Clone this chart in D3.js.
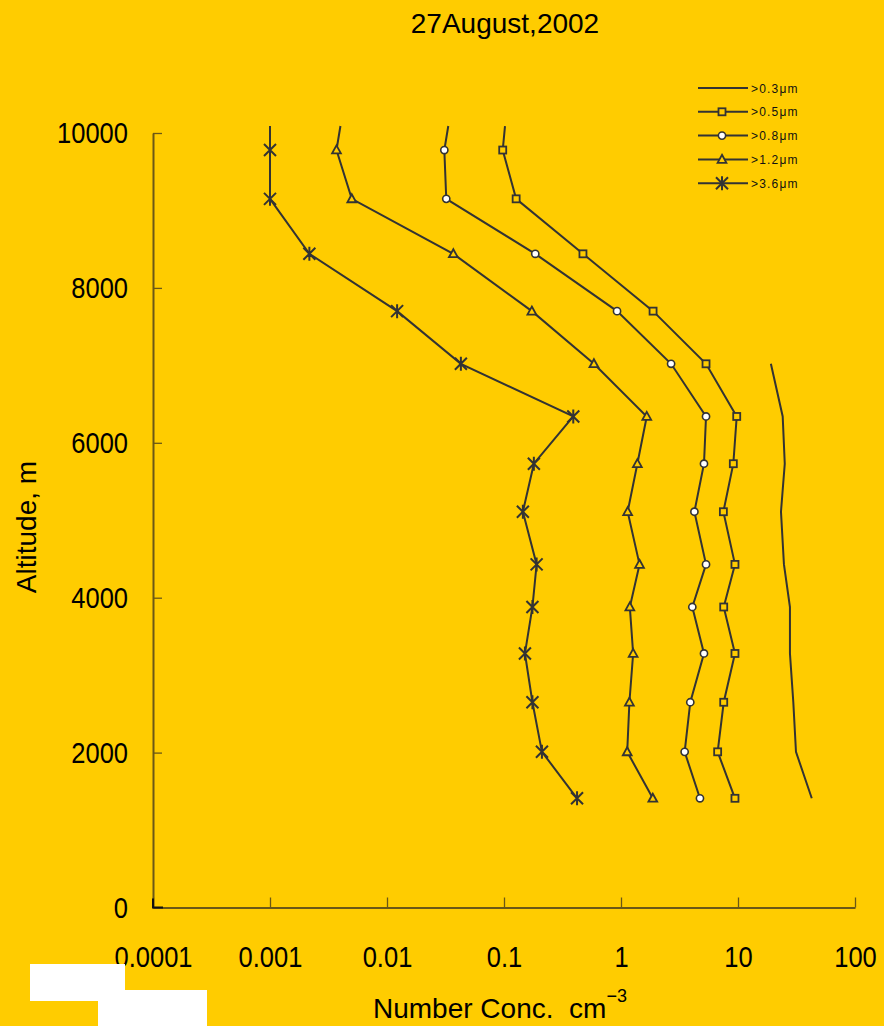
<!DOCTYPE html>
<html>
<head>
<meta charset="utf-8">
<script src="https://cdn.jsdelivr.net/npm/d3@7"></script>
<style>
  html, body { margin: 0; padding: 0; background: #FFCC00; }
  svg { display: block; }
</style>
</head>
<body>
<svg id="chart" width="884" height="1026"></svg>
<script>
// ---------------- data ----------------
const title = "27August,2002";
const altitudes = [10090, 9780, 9150, 8440, 7700, 7020, 6340, 5730, 5110, 4430, 3880, 3280, 2650, 2010, 1410];
const gt03 = [null, null, null, null, null, 19.1, 24.1, 25.1, 23.3, 24.7, 27.8, 27.8, 29.7, 31.3, 42.7];
const gt05 = [0.102, 0.0975, 0.127, 0.473, 1.88, 5.33, 9.75, 9.12, 7.50, 9.42, 7.55, 9.42, 7.55, 6.70, 9.42];
const gt08 = [0.0334, 0.0309, 0.0321, 0.185, 0.925, 2.68, 5.33, 5.12, 4.24, 5.33, 4.07, 5.12, 3.91, 3.50, 4.73];
const gt12 = [0.0040, 0.0037, 0.0050, 0.0369, 0.173, 0.587, 1.66, 1.38, 1.14, 1.44, 1.19, 1.27, 1.18, 1.13, 1.87];
const gt36 = [0.0010, 0.0010, 0.0010, 0.00217, 0.0122, 0.0428, 0.391, 0.180, 0.145, 0.190, 0.175, 0.151, 0.175, 0.211, 0.421];
const seriesNames = [">0.3μm", ">0.5μm", ">0.8μm", ">1.2μm", ">3.6μm"];
const seriesMarkers = ["none", "square", "circle", "triangle", "asterisk"];
const xTickValues = [0.0001, 0.001, 0.01, 0.1, 1, 10, 100];
const xTickLabels = ["0.0001", "0.001", "0.01", "0.1", "1", "10", "100"];
const yTickValues = [0, 2000, 4000, 6000, 8000, 10000];
const yTickLabels = ["0", "2000", "4000", "6000", "8000", "10000"];
const xTitle = "Number Conc.  cm";
const xTitleSup = "−3";
const yTitle = "Altitude, m";

// ---------------- layout ----------------
const svg = d3.select("#chart");
const W = 884, H = 1026;
const plot = { left: 153, right: 855, top: 133, bottom: 907.5 };
const lineColor = "#333333";
const axisColor = "#6b5816";
const tickFont = "'Liberation Sans', Arial, sans-serif";
const mainFont = "'Liberation Sans', Arial, sans-serif";

svg.append("rect").attr("width", W).attr("height", H).attr("fill", "#FFCC00");

const x = d3.scaleLog().domain([0.0001, 100]).range([plot.left, plot.right]);
const y = d3.scaleLinear().domain([0, 10000]).range([plot.bottom, plot.top]);

// ---------------- axes ----------------
const xAxis = d3.axisBottom(x)
  .tickValues(xTickValues)
  .tickFormat((d, i) => xTickLabels[i])
  .tickSizeInner(-10).tickSizeOuter(0).tickPadding(38);
const gx = svg.append("g").attr("transform", `translate(0,${plot.bottom})`).call(xAxis);

const yAxis = d3.axisLeft(y)
  .tickValues(yTickValues)
  .tickFormat((d, i) => yTickLabels[i])
  .tickSizeInner(-9).tickSizeOuter(0).tickPadding(25);
const gy = svg.append("g").attr("transform", `translate(${plot.left},0)`).call(yAxis);

[gx, gy].forEach(g => {
  g.select(".domain").attr("stroke", axisColor).attr("stroke-width", 2);
  g.selectAll(".tick line").attr("stroke", axisColor).attr("stroke-width", 1.3);
  g.selectAll(".tick text").attr("fill", "#000").style("font-family", tickFont).style("font-size", "30px")
    .each(function () {
      // condensed look of the original tick font
      const w = this.getComputedTextLength();
      d3.select(this).attr("textLength", w * 0.85).attr("lengthAdjust", "spacingAndGlyphs");
    });
});

// corner accent
svg.append("path")
  .attr("d", `M${plot.left},${plot.bottom - 9}V${plot.bottom}H${plot.left + 10}`)
  .attr("fill", "none").attr("stroke", "#111").attr("stroke-width", 2);

// ---------------- series ----------------
const allSeries = [gt03, gt05, gt08, gt12, gt36];
const line = d3.line()
  .defined(d => d.v != null)
  .x(d => x(d.v))
  .y(d => y(d.alt));

function markerPath(type) {
  switch (type) {
    case "triangle": return "M0,-4.6L4.4,3.4L-4.4,3.4Z";
    case "asterisk": return "M-6,-6L6,6M-6,6L6,-6M0,-7L0,7";
    default: return null;
  }
}
function drawMarker(g, type, cx, cy) {
  if (type === "square") {
    g.append("rect").attr("x", cx - 3.5).attr("y", cy - 3.5).attr("width", 7).attr("height", 7)
      .attr("fill", "#FFCC00").attr("stroke", lineColor).attr("stroke-width", 1.8);
  } else if (type === "circle") {
    g.append("circle").attr("cx", cx).attr("cy", cy).attr("r", 3.6)
      .attr("fill", "#fff").attr("stroke", lineColor).attr("stroke-width", 1.6);
  } else if (type === "triangle" || type === "asterisk") {
    g.append("path").attr("d", markerPath(type)).attr("transform", `translate(${cx},${cy})`)
      .attr("fill", type === "triangle" ? "#FFCC00" : "none")
      .attr("stroke", lineColor).attr("stroke-width", type === "asterisk" ? 2 : 1.8);
  }
}

const gSeries = svg.append("g");
allSeries.forEach((vals, si) => {
  const pts = altitudes.map((alt, i) => ({ alt, v: vals[i] }));
  gSeries.append("path").datum(pts)
    .attr("d", line)
    .attr("fill", "none").attr("stroke", lineColor).attr("stroke-width", 2);
  const gm = gSeries.append("g");
  pts.filter(p => p.v != null && p.alt <= 10000)
    .forEach(p => drawMarker(gm, seriesMarkers[si], x(p.v), y(p.alt)));
});

// ---------------- legend ----------------
const legend = svg.append("g");
seriesNames.forEach((name, i) => {
  const ly = 88 + i * 23.8;
  legend.append("line").attr("x1", 698).attr("x2", 748).attr("y1", ly).attr("y2", ly)
    .attr("stroke", lineColor).attr("stroke-width", 2);
  drawMarker(legend, seriesMarkers[i], 722, ly);
  legend.append("text").attr("x", 751).attr("y", ly + 4.5)
    .text(name)
    .style("font-family", mainFont).style("font-size", "12px").style("letter-spacing", "1.2px")
    .attr("fill", "#111");
});

// ---------------- titles ----------------
svg.append("text").attr("x", 505).attr("y", 33).attr("text-anchor", "middle")
  .style("font-family", mainFont).style("font-size", "28px").attr("fill", "#000")
  .text(title);

svg.append("text")
  .attr("transform", "translate(36,527) rotate(-90)")
  .attr("text-anchor", "middle")
  .style("font-family", mainFont).style("font-size", "28px").attr("fill", "#000")
  .text(yTitle);

const xt = svg.append("text").attr("x", 373).attr("y", 1018)
  .style("font-family", mainFont).style("font-size", "28px").attr("fill", "#000")
  .style("white-space", "pre").attr("xml:space", "preserve");
xt.append("tspan").text(xTitle);
xt.append("tspan").attr("dy", -16).style("font-size", "18px").text(xTitleSup);

// ---------------- white patches ----------------
svg.append("rect").attr("x", 30).attr("y", 964).attr("width", 95).attr("height", 37).attr("fill", "#fff");
svg.append("rect").attr("x", 98).attr("y", 990).attr("width", 109).attr("height", 36).attr("fill", "#fff");
</script>
</body>
</html>
